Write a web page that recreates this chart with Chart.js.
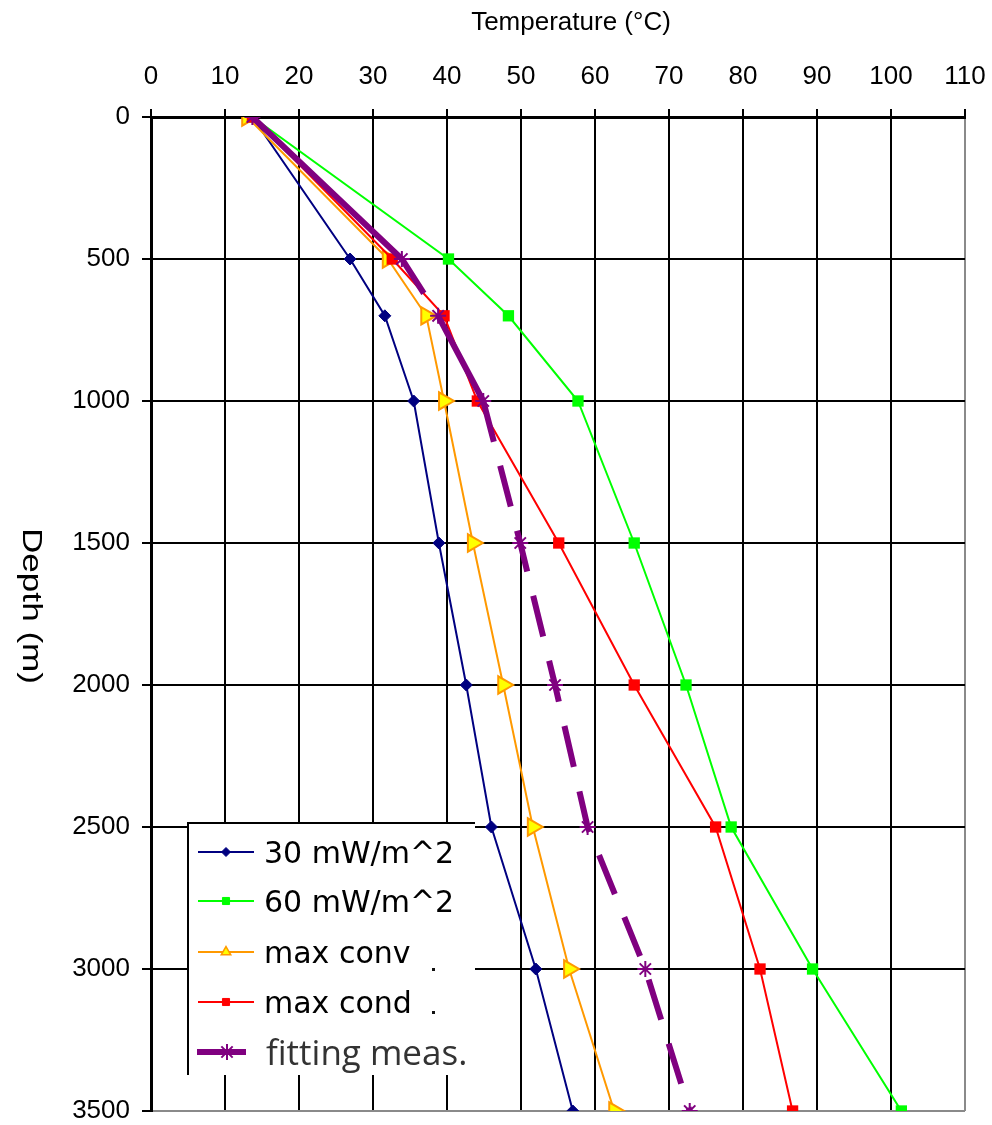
<!DOCTYPE html>
<html>
<head>
<meta charset="utf-8">
<title>Temperature profiles</title>
<script src="https://cdn.jsdelivr.net/npm/chart.js@4.4.1/dist/chart.umd.min.js"></script>
<style>
  html, body { margin: 0; padding: 0; background: #fff; }
  #wrap { width: 992px; height: 1125px; position: relative; }
  canvas { display: block; }
</style>
</head>
<body>
<div id="wrap"><canvas id="chart" width="992" height="1125"></canvas></div>
<script>
// Depth of each sample (m) and the temperature profiles (°C)
const depths      = [0, 500, 700, 1000, 1500, 2000, 2500, 3000, 3500];
const temp30      = [13.7, 26.9, 31.6, 35.5, 38.9, 42.6, 46.0, 52.0, 57.0];
const temp60      = [13.7, 40.2, 48.3, 57.7, 65.3, 72.3, 78.4, 89.4, 101.4];
const tempMaxConv = [13.0, 32.0, 37.2, 39.6, 43.5, 47.6, 51.6, 56.5, 62.6];
const tempMaxCond = [13.7, 32.6, 39.6, 44.1, 55.1, 65.3, 76.3, 82.3, 86.7];
const tempFit     = [13.7, 33.9, 38.8, 44.9, 49.9, 54.6, 59.0, 66.8, 72.8];

const seriesNames = ['30 mW/m^2', '60 mW/m^2', 'max conv', 'max cond', 'fitting meas.'];
const tempTicks  = [0, 10, 20, 30, 40, 50, 60, 70, 80, 90, 100, 110];
const depthTicks = [0, 500, 1000, 1500, 2000, 2500, 3000, 3500];

const xTitle = 'Temperature (°C)';
const yTitle = 'Depth (m)';

const toPoints = temps => temps.map((t, i) => ({ x: t, y: depths[i] }));

const ARIAL = '"Liberation Sans", Arial, Helvetica, sans-serif';

const datasets = [
  {
    label: seriesNames[0], data: toPoints(temp30), order: 4,
    borderColor: '#000080', backgroundColor: '#000080', borderWidth: 2,
    pointStyle: 'rectRot', pointRadius: 6, pointBorderWidth: 1
  },
  {
    label: seriesNames[1], data: toPoints(temp60), order: 3,
    borderColor: '#00ff00', backgroundColor: '#00ff00', borderWidth: 2,
    pointStyle: 'rect', pointRadius: 8, pointBorderWidth: 0
  },
  {
    label: seriesNames[2], data: toPoints(tempMaxConv), order: 2,
    borderColor: '#ff9900', backgroundColor: '#ffff00', borderWidth: 2,
    pointStyle: 'triangle', pointRotation: 90, pointRadius: 10,
    pointBorderColor: '#ff9900', pointBorderWidth: 2
  },
  {
    label: seriesNames[3], data: toPoints(tempMaxCond), order: 1,
    borderColor: '#ff0000', backgroundColor: '#ff0000', borderWidth: 2,
    pointStyle: 'rect', pointRadius: 8, pointBorderWidth: 0
  },
  {
    label: seriesNames[4], data: toPoints(tempFit), order: 0,
    borderColor: '#800080', backgroundColor: '#800080', borderWidth: 6,
    pointStyle: 'star', pointRadius: 8, pointBorderWidth: 2,
    pointBorderColor: '#800080',
    // long dash near the surface, solid stretch, then regular dashes
    segment: {
      borderDash: ctx => ctx.p1DataIndex <= 2 ? [247, 30]
                       : (ctx.p1DataIndex === 3 ? [] : [42, 25])
    }
  }
];

// Legend drawn inside the plot, lower left, plus the axis titles
const overlayPlugin = {
  id: 'overlay',
  afterDraw(chart) {
    const ctx = chart.ctx;
    const drawPoint = Chart.helpers.drawPoint;

    // axis titles
    ctx.save();
    ctx.fillStyle = '#000';
    ctx.font = '26px ' + ARIAL;
    ctx.textAlign = 'center';
    ctx.textBaseline = 'alphabetic';
    ctx.fillText(xTitle, 571, 30);
    ctx.restore();

    ctx.save();
    ctx.fillStyle = '#000';
    ctx.font = '27px ' + ARIAL;
    ctx.translate(23, 606);
    ctx.rotate(Math.PI / 2);
    ctx.scale(1.3, 1);
    ctx.textAlign = 'center';
    ctx.textBaseline = 'alphabetic';
    ctx.fillText(yTitle, 0, 0);
    ctx.restore();

    // legend box
    const bx = 187, by = 822, bw = 288, bh = 253;
    ctx.save();
    ctx.fillStyle = '#fff';
    ctx.fillRect(bx, by, bw, bh);
    ctx.strokeStyle = '#000';
    ctx.lineWidth = 2;
    ctx.beginPath();
    ctx.moveTo(bx + 1, by + bh);
    ctx.lineTo(bx + 1, by + 1);
    ctx.lineTo(bx + bw, by + 1);
    ctx.stroke();

    const rows = [
      { ds: 0, y: 852, base: 863, style: 'rectRot', r: 4.5 },
      { ds: 1, y: 901, base: 912, style: 'rect', r: 5 },
      { ds: 2, y: 952, base: 963, style: 'triangle', r: 5.5 },
      { ds: 3, y: 1002, base: 1013, style: 'rect', r: 5 },
      { ds: 4, y: 1052, base: 1065, style: 'star', r: 8 }
    ];
    rows.forEach(row => {
      const d = datasets[row.ds];
      const fit = row.ds === 4;
      ctx.save();
      ctx.strokeStyle = d.borderColor;
      ctx.lineWidth = d.borderWidth;
      ctx.beginPath();
      ctx.moveTo(fit ? 197 : 198, row.y);
      ctx.lineTo(fit ? 246 : 254, row.y);
      ctx.stroke();
      ctx.fillStyle = d.backgroundColor;
      ctx.strokeStyle = d.pointBorderColor || d.borderColor;
      ctx.lineWidth = fit ? 2 : (row.ds === 2 ? 1.5 : 1);
      drawPoint(ctx, { pointStyle: row.style, radius: row.r, rotation: 0, borderWidth: ctx.lineWidth }, fit ? 227 : 226, row.y);
      ctx.restore();

      ctx.save();
      ctx.textAlign = 'left';
      ctx.textBaseline = 'alphabetic';
      if (fit) {
        ctx.fillStyle = '#333';
        ctx.font = '35px "Open Sans", "Noto Sans", sans-serif';
        ctx.fillText(d.label, 266, row.base);
      } else {
        ctx.fillStyle = '#000';
        ctx.font = '30px "DejaVu Sans", Verdana, sans-serif';
        ctx.fillText(d.label, 264, row.base);
      }
      ctx.restore();
    });

    // two small marks to the right of the legend rows
    ctx.fillStyle = '#111';
    ctx.fillRect(432, 968, 3, 3);
    ctx.fillRect(432, 1011, 3, 3);
    ctx.restore();
  }
};

new Chart(document.getElementById('chart'), {
  type: 'line',
  data: { datasets },
  options: {
    responsive: false,
    animation: false,
    devicePixelRatio: 1,
    events: [],
    layout: { padding: { left: 0, right: 27, top: 0, bottom: 14 } },
    elements: { line: { tension: 0 } },
    plugins: {
      legend: { display: false },
      tooltip: { enabled: false },
      title: { display: false }
    },
    scales: {
      x: {
        type: 'linear',
        position: 'top',
        min: 0,
        max: 110,
        afterBuildTicks: s => { s.ticks = tempTicks.map(v => ({ value: v })); },
        afterFit: s => { s.height = 117; s.paddingLeft = 0; s.paddingRight = 0; },
        ticks: {
          font: { family: ARIAL, size: 26 },
          color: '#000',
          padding: 17,
          maxRotation: 0,
          autoSkip: false,
          callback: v => String(v)
        },
        grid: {
          color: c => (c.tick && c.tick.value === 110) ? '#8a8a8a' : '#000',
          tickColor: '#000',
          lineWidth: 2,
          tickLength: 8,
          drawTicks: true
        },
        border: { display: true, color: '#000', width: 3 }
      },
      y: {
        type: 'linear',
        position: 'left',
        reverse: true,
        min: 0,
        max: 3500,
        afterBuildTicks: s => { s.ticks = depthTicks.map(v => ({ value: v })); },
        afterFit: s => { s.width = 151; s.paddingTop = 0; s.paddingBottom = 0; },
        ticks: {
          font: { family: ARIAL, size: 26 },
          color: '#000',
          padding: 12,
          autoSkip: false,
          callback: v => String(v)
        },
        grid: {
          color: c => (c.tick && c.tick.value === 3500) ? '#8a8a8a' : '#000',
          tickColor: '#000',
          lineWidth: 2,
          tickLength: 9,
          drawTicks: true
        },
        border: { display: true, color: '#000', width: 3 }
      }
    }
  },
  plugins: [overlayPlugin]
});
</script>
</body>
</html>
